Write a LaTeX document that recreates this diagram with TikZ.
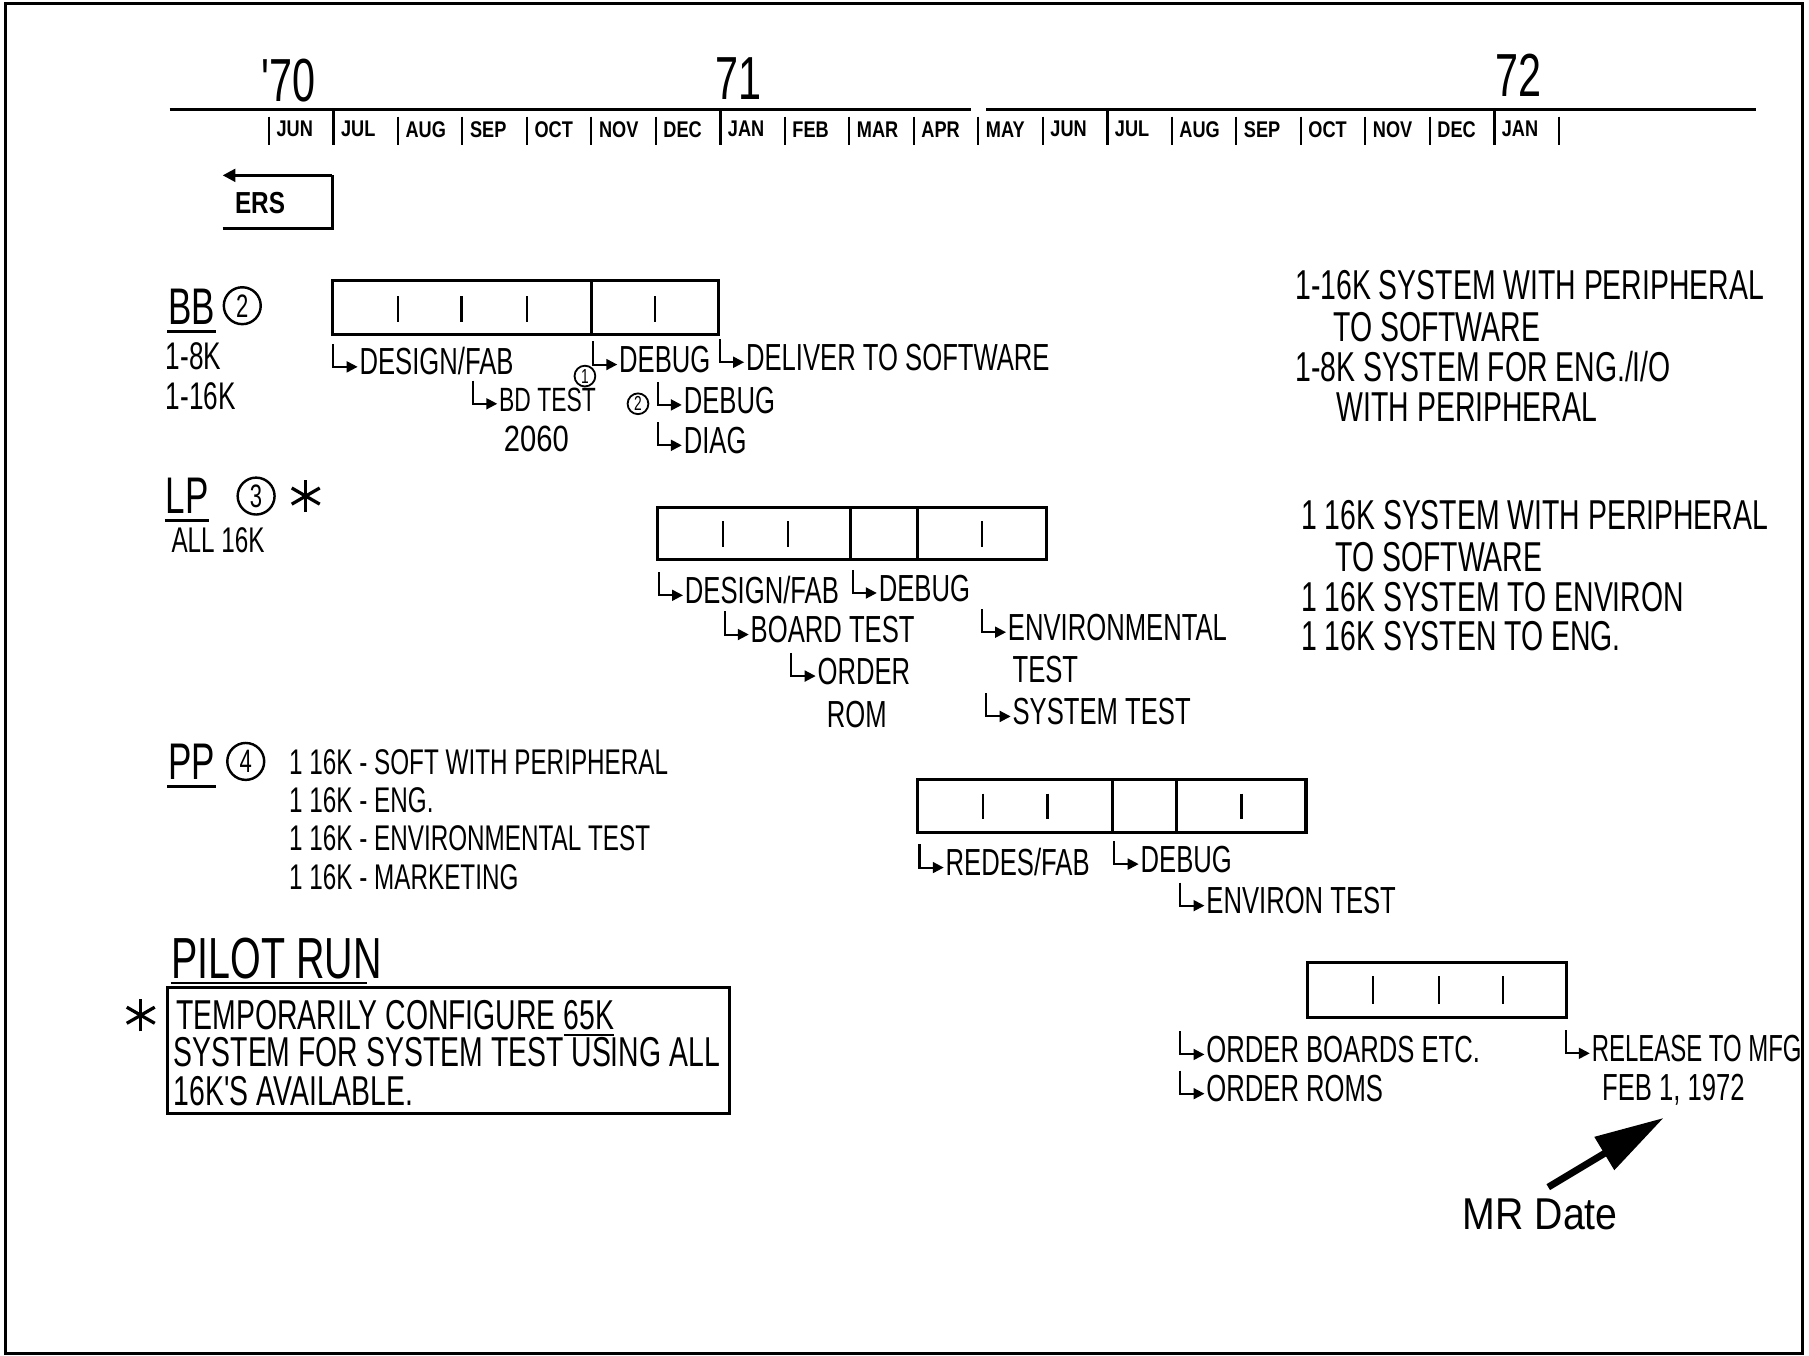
\documentclass[tikz,border=0pt]{standalone}
\usepackage{fontspec}
\setmainfont{Liberation Sans}
\newfontfamily\hand{Liberation Sans}[FakeStretch=0.68]
\newfontfamily\handn{Liberation Sans}[FakeStretch=0.635]
\newfontfamily\handm{Liberation Sans}[FakeStretch=0.8]
\newfontfamily\mrf{Liberation Sans}[FakeStretch=0.88]
\usetikzlibrary{arrows.meta,calc}
\newcommand\fs[1]{\fontsize{#1}{#1}\selectfont}
\newcommand\hookon[1]{\draw[hkarrow] ($(#1.base west)+(-22,-27)$) |- ($(#1.base west)+(-1,-7)$);}
\newcommand\ulon[1]{\draw[line width=0.7pt] ($(#1.base west)+(0,6)$) -- ($(#1.base east)+(0,6)$);}
\begin{document}
\begin{tikzpicture}[x=0.1mm,y=-0.1mm,
  every node/.style={inner sep=0pt},
  lbl/.style={anchor=base west,font=\hand\fs{9.3}},
  rt/.style={anchor=base west,font=\hand\fs{10.3}},
  ppl/.style={anchor=base west,font=\hand\fs{8.8}},
  mon/.style={anchor=west,font=\handm\bfseries\fs{5.6}},
  yr/.style={font=\hand\fs{15}},
  ttl/.style={anchor=base west,font=\hand\fs{12.7}},
  bx/.style={line width=0.75pt},
  tk/.style={line width=0.55pt},
  hkarrow/.style={line width=0.5pt,-{Triangle[length=0.95mm,width=0.95mm]}},
  circ/.style={draw,circle,minimum size=3.2mm,line width=0.6pt,font=\hand\fs{8}},
  scirc/.style={draw,circle,minimum size=1.8mm,line width=0.45pt,font=\hand\fs{5}},
  astk/.style={line width=0.8pt}
]
\useasboundingbox (0,0) rectangle (1568,1175);
% frame
\draw[line width=0.7pt] (5,3) rectangle (1562,1173);

% ---------- timeline ----------
\draw[line width=0.9pt] (147,95) -- (842,95);
\draw[line width=0.9pt] (855,95) -- (1522,95);
\node[yr] (y70) at (250,70) {'70};
\node[yr] (y71) at (640,68) {71};
\node[yr] (y72) at (1316,65) {72};
\foreach \m [count=\i from 0] in {JUN,JUL,AUG,SEP,OCT,NOV,DEC,JAN,FEB,MAR,APR,MAY,JUN,JUL,AUG,SEP,OCT,NOV,DEC,JAN}{
  \pgfmathsetmacro\xx{233+55.9*\i}
  \draw[tk] (\xx,101) -- (\xx,126);
  \node[mon] (m\i) at (\xx+6,112) {\m};
}
\draw[tk] (233+55.9*20,101) -- (233+55.9*20,126);
\foreach \i in {1,7,13,19}{
  \draw[line width=0.8pt] (233+55.9*\i,95) -- (233+55.9*\i,126);
}

% ---------- ERS ----------
\coordinate (ersTR) at (288,152);
\coordinate (ersTL) at (193,152);
\coordinate (ersBR) at (288,198);
\coordinate (ersBL) at (193,198);
\draw[line width=0.7pt] (ersBL) -- (ersBR) -- (ersTR);
\draw[line width=0.7pt,-{Triangle[length=1.1mm,width=1.1mm]}] (ersTR) -- (ersTL);
\node[anchor=west,font=\handm\bfseries\fs{7.5}] (ers) at (203,176) {ERS};

% ---------- BB ----------
\node[ttl] (bbt) at (145,281) {BB};
\ulon{bbt}
\node[circ] (bbc) at (210,265) {2};
\node[anchor=base west,font=\hand\fs{9.5}] (bb8) at (143,320) {1-8K};
\node[anchor=base west,font=\hand\fs{9.5}] (bb16) at (143,355) {1-16K};

\draw[bx] (288,243) rectangle (623,290);
\draw[bx] (513,243) -- (513,290);
\foreach \x in {345,400,457,568} \draw[tk] (\x,257) -- (\x,279);

\node[lbl] (bbdf) at (311,325) {DESIGN/FAB};
\node[lbl] (bbdb) at (536,323) {DEBUG};
\node[lbl] (bbdl) at (646,321) {DELIVER TO SOFTWARE};
\node[lbl,font=\hand\fs{8.3}] (bbbd) at (432,357) {BD TEST};
\node[anchor=base,font=\handm\fs{9}] (bb2060) at (465,391) {2060};
\node[lbl] (bbdb2) at (592,358) {DEBUG};
\node[lbl] (bbdg) at (592,393) {DIAG};
\node[scirc] (bbc1) at (507,326) {1};
\node[scirc] (bbc2) at (553,350) {2};
\foreach \n in {bbdf,bbdb,bbdl,bbbd,bbdb2,bbdg} {\hookon{\n}}

% right text BB
\node[rt] (r1a) at (1122,260) {1-16K SYSTEM WITH PERIPHERAL};
\node[rt] (r1b) at (1155,296) {TO SOFTWARE};
\node[rt] (r1c) at (1122,331) {1-8K SYSTEM FOR ENG./I/O};
\node[rt] (r1d) at (1158,365) {WITH PERIPHERAL};

% ---------- LP ----------
\node[ttl] (lpt) at (143,445) {LP};
\ulon{lpt}
\node[circ] (lpc) at (222,430) {3};
\foreach \a in {90,30,150} \draw[astk] ($(265,430)+(\a:14)$) -- ($(265,430)+(\a+180:14)$);
\node[anchor=base west,font=\hand\fs{8.8}] (lpall) at (148,479) {ALL 16K};

\draw[bx] (570,440) rectangle (907,485);
\draw[bx] (737,440) -- (737,485);
\draw[bx] (795,440) -- (795,485);
\foreach \x in {627,683,851} \draw[tk] (\x,452) -- (\x,474);

\node[lbl] (lpdf) at (593,523) {DESIGN/FAB};
\node[lbl] (lpdb) at (761,521) {DEBUG};
\node[lbl] (lpbt) at (650,557) {BOARD TEST};
\node[lbl] (lpor) at (708,593) {ORDER};
\node[lbl] (lprom) at (716,631) {ROM};
\node[lbl] (lpen) at (873,555) {ENVIRONMENTAL};
\node[lbl] (lptest) at (877,592) {TEST};
\node[lbl] (lpst) at (877,628) {SYSTEM TEST};
\foreach \n in {lpdf,lpdb,lpbt,lpor,lpen,lpst} {\hookon{\n}}

% right text LP
\node[rt] (r2a) at (1127,459) {1 16K SYSTEM WITH PERIPHERAL};
\node[rt] (r2b) at (1157,495) {TO SOFTWARE};
\node[rt] (r2c) at (1127,530) {1 16K SYSTEM TO ENVIRON};
\node[rt] (r2d) at (1127,564) {1 16K SYSTEN TO ENG.};

% ---------- PP ----------
\node[ttl] (ppt) at (145,676) {PP};
\ulon{ppt}
\node[circ] (ppc) at (213,660) {4};
\node[ppl] (pp1) at (250,671) {1 16K - SOFT WITH PERIPHERAL};
\node[ppl] (pp2) at (250,704) {1 16K - ENG.};
\node[ppl] (pp3) at (250,737) {1 16K - ENVIRONMENTAL TEST};
\node[ppl] (pp4) at (250,771) {1 16K - MARKETING};

\draw[bx] (795,676) rectangle (1132,722);
\draw[bx] (964,676) -- (964,722);
\draw[bx] (1020,676) -- (1020,722);
\foreach \x in {852,908,1076} \draw[tk] (\x,688) -- (\x,710);

\node[lbl] (pprd) at (819,759) {REDES/FAB};
\node[lbl] (ppdb) at (988,756) {DEBUG};
\node[lbl] (ppen) at (1045,792) {ENVIRON TEST};
\foreach \n in {pprd,ppdb,ppen} {\hookon{\n}}

% ---------- PILOT RUN ----------
\node[anchor=base west,font=\hand\fs{14.3}] (pilot) at (148,848) {PILOT RUN};
\draw[line width=0.7pt] (148,852) -- (318,852);
\draw[bx] (145,856) rectangle (632,965);
\foreach \a in {90,30,150} \draw[astk] ($(122,880)+(\a:14)$) -- ($(122,880)+(\a+180:14)$);
\node[rt] (pb1) at (152,892) {TEMPORARILY CONFIGURE \underline{65K}};
\node[rt] (pb2) at (150,924) {SYSTEM FOR SYSTEM TEST USING ALL};
\node[rt] (pb3) at (150,958) {16K'S AVAILABLE.};

% ---------- final ----------
\draw[bx] (1133,834) rectangle (1358,882);
\foreach \x in {1190,1247,1303} \draw[tk] (\x,846) -- (\x,870);

\node[lbl] (frob) at (1045,921) {ORDER BOARDS ETC.};
\node[lbl] (fror) at (1045,955) {ORDER ROMS};
\begin{scope}
\clip (0,0) rectangle (1561,1175);
\node[lbl,font=\handn\fs{9.3}] (frrel) at (1379,920) {RELEASE TO MFG};
\end{scope}
\node[lbl] (frfeb) at (1388,954) {FEB 1, 1972};
\foreach \n in {frob,fror,frrel} {\hookon{\n}}

% MR date
\node[font=\mrf\fs{11}] (mr) at (1335,1053) {MR Date};
\coordinate (mrtail) at (1342,1029);
\coordinate (mrtip) at (1442,969);
\draw[line width=0.6mm,-{Triangle[length=6mm,width=3.2mm]}] (mrtail) -- (mrtip);
\end{tikzpicture}
\end{document}
